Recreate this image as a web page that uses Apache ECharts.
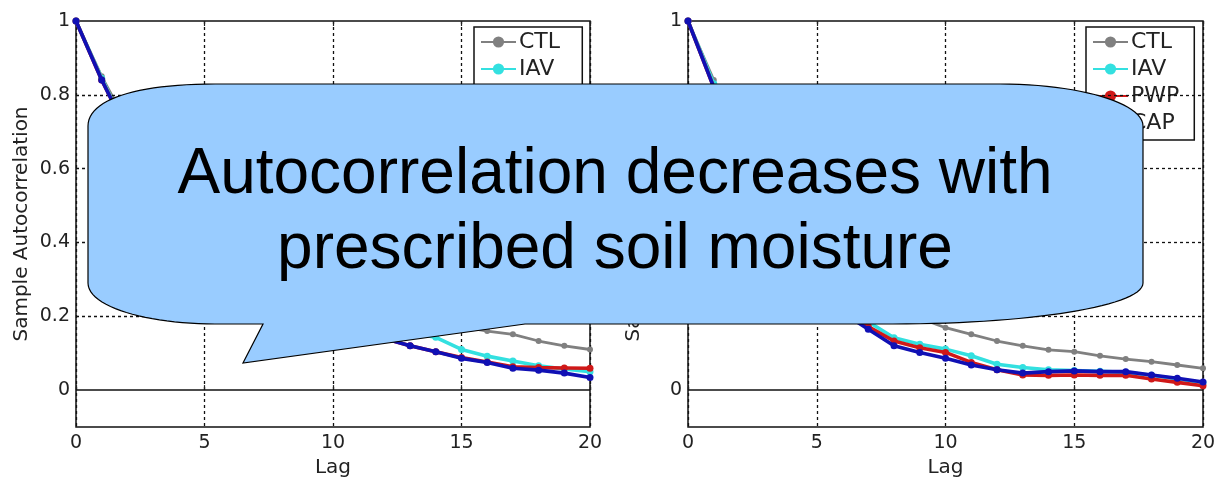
<!DOCTYPE html>
<html>
<head>
<meta charset="utf-8">
<script src="https://cdn.jsdelivr.net/npm/echarts@6/dist/echarts.min.js"></script>
<style>
  html, body { margin: 0; padding: 0; background: #fff; }
  #chart { width: 1221px; height: 483px; }
</style>
</head>
<body>
<div id="chart"></div>
<script>
// Lags 0..20
const lags = [0, 1, 2, 3, 4, 5, 6, 7, 8, 9, 10, 11, 12, 13, 14, 15, 16, 17, 18, 19, 20];

// Left panel: sample autocorrelation per experiment
const ctlLeft = [1.00, 0.85, 0.72, 0.62, 0.54, 0.47, 0.42, 0.37, 0.33, 0.295, 0.265, 0.24, 0.22, 0.20, 0.185, 0.172, 0.160, 0.151, 0.133, 0.120, 0.110];
const iavLeft = [1.00, 0.845, 0.70, 0.59, 0.50, 0.43, 0.37, 0.32, 0.28, 0.245, 0.215, 0.19, 0.168, 0.155, 0.143, 0.110, 0.092, 0.079, 0.066, 0.057, 0.050];
const pwpLeft = [1.00, 0.84, 0.70, 0.585, 0.49, 0.415, 0.35, 0.30, 0.26, 0.225, 0.19, 0.165, 0.14, 0.12, 0.104, 0.088, 0.076, 0.063, 0.061, 0.060, 0.059];
const capLeft = [1.00, 0.84, 0.70, 0.585, 0.49, 0.415, 0.35, 0.30, 0.26, 0.225, 0.19, 0.165, 0.14, 0.12, 0.104, 0.086, 0.075, 0.059, 0.054, 0.046, 0.034];

// Right panel
const ctlRight = [1.00, 0.84, 0.69, 0.56, 0.46, 0.38, 0.32, 0.27, 0.23, 0.195, 0.169, 0.151, 0.133, 0.120, 0.109, 0.104, 0.093, 0.084, 0.077, 0.068, 0.059];
const iavRight = [1.00, 0.83, 0.66, 0.52, 0.41, 0.32, 0.24, 0.185, 0.142, 0.124, 0.111, 0.093, 0.070, 0.061, 0.055, 0.053, 0.051, 0.048, 0.040, 0.030, 0.020];
const pwpRight = [1.00, 0.82, 0.65, 0.50, 0.39, 0.30, 0.22, 0.172, 0.133, 0.115, 0.102, 0.075, 0.055, 0.041, 0.040, 0.041, 0.040, 0.040, 0.030, 0.021, 0.012];
const capRight = [1.00, 0.82, 0.64, 0.49, 0.38, 0.29, 0.21, 0.165, 0.120, 0.102, 0.086, 0.068, 0.055, 0.046, 0.050, 0.052, 0.050, 0.050, 0.041, 0.032, 0.022];

const seriesNames = ['CTL', 'IAV', 'PWP', 'CAP'];
const seriesColors = ['#808080', '#33e0e0', '#d01818', '#1010b4'];

const gridValues = [0.2, 0.4, 0.6, 0.8];
const yTickLabels = ['0', '0.2', '0.4', '0.6', '0.8', '1'];

const calloutLines = ['Autocorrelation decreases with', 'prescribed soil moisture'];

const FONT = '"DejaVu Sans", sans-serif';

function pairs(values) {
  return lags.map((l, i) => [l, values[i]]);
}

function yLabel(v) {
  const k = Math.round(v * 10);
  if (k < 0 || k % 2 !== 0) return '';
  return yTickLabels[k / 2];
}

function xAxisFor(gridIndex) {
  return [{
    type: 'value', gridIndex, min: 0, max: 20, interval: 5, position: 'bottom',
    name: 'Lag', nameLocation: 'middle', nameGap: 29,
    nameTextStyle: { fontFamily: FONT, fontSize: 20, color: '#222' },
    axisLine: { show: false },
    axisTick: { show: true, inside: true, length: 5, lineStyle: { color: '#222', width: 1.2 } },
    axisLabel: { fontFamily: FONT, fontSize: 19, color: '#222', margin: 7 },
    splitLine: { show: true, lineStyle: { color: '#111', width: 1.3, type: [3, 3] } }
  }, {
    type: 'value', gridIndex, min: 0, max: 20, interval: 5, position: 'top',
    axisLine: { show: false },
    axisTick: { show: true, inside: true, length: 5, lineStyle: { color: '#222', width: 1.2 } },
    axisLabel: { show: false },
    splitLine: { show: false }
  }];
}

function yAxisFor(gridIndex) {
  return {
    type: 'value', gridIndex, min: -0.1, max: 1, interval: 0.1,
    name: 'Sample Autocorrelation', nameLocation: 'middle', nameGap: 44, nameRotate: 90,
    nameTextStyle: { fontFamily: FONT, fontSize: 20, color: '#222' },
    axisLine: { show: false },
    axisTick: { show: false },
    axisLabel: { fontFamily: FONT, fontSize: 19, color: '#222', margin: 6, formatter: yLabel },
    splitLine: { show: false }
  };
}

// Dotted horizontal grid plus the solid zero line, drawn under the data
function gridSeries(axisIndex) {
  const lines = gridValues.map(v => ({
    yAxis: v, lineStyle: { color: '#111', width: 1.3, type: [3, 3] }
  }));
  lines.push({ yAxis: 0, lineStyle: { color: '#111', width: 1.5, type: 'solid' } });
  return {
    type: 'line', xAxisIndex: axisIndex, yAxisIndex: axisIndex / 2, data: [], z: 1, silent: true,
    markLine: { silent: true, symbol: 'none', label: { show: false }, animation: false, data: lines }
  };
}

function dataSeries(name, values, idx, axisIndex) {
  const isCtl = name === 'CTL';
  return {
    name, type: 'line', xAxisIndex: axisIndex, yAxisIndex: axisIndex / 2, z: 3 + idx,
    data: pairs(values),
    color: seriesColors[idx],
    symbol: 'circle', symbolSize: isCtl ? 6 : 7, showSymbol: true,
    lineStyle: { width: isCtl ? 2.8 : 3.6, color: seriesColors[idx] },
    itemStyle: { color: seriesColors[idx] },
    animation: false
  };
}

function legendAt(left) {
  return {
    left, top: 27, orient: 'vertical', data: seriesNames,
    backgroundColor: '#fff', borderColor: '#111', borderWidth: 1.5,
    padding: [4, 15, 6, 6], itemWidth: 35, itemHeight: 14, itemGap: 5,
    textStyle: { fontFamily: FONT, fontSize: 22, color: '#222', lineHeight: 22, padding: [0, 0, 0, -2] },
    selectedMode: false
  };
}

// Rounded callout with a wedge tail, built from straight runs and cubic corners
function cubic(p0, p1, p2, p3, n) {
  const pts = [];
  for (let i = 1; i <= n; i++) {
    const t = i / n, u = 1 - t;
    pts.push([
      u * u * u * p0[0] + 3 * u * u * t * p1[0] + 3 * u * t * t * p2[0] + t * t * t * p3[0],
      u * u * u * p0[1] + 3 * u * u * t * p1[1] + 3 * u * t * t * p2[1] + t * t * t * p3[1]
    ]);
  }
  return pts;
}

function calloutOutline() {
  const L = 88, R = 1143, T = 84, B = 324;
  let pts = [[215, T], [1000, T]];
  pts = pts.concat(cubic([1000, T], [1079, T], [R, 103], [R, 126], 24));
  pts.push([R, 283]);
  pts = pts.concat(cubic([R, 283], [R, 306], [1030, B], [893, B], 30));
  pts.push([525, B], [243, 363], [263, B], [215, B]);
  pts = pts.concat(cubic([215, B], [148, B], [L, 307], [L, 283], 24));
  pts.push([L, 126]);
  pts = pts.concat(cubic([L, 126], [L, 100], [135, T], [215, T], 24));
  return pts;
}

const option = {
  backgroundColor: '#ffffff',
  animation: false,
  grid: [
    { left: 76, right: 631, top: 21, bottom: 56, show: true, borderColor: '#111', borderWidth: 1.5, backgroundColor: 'transparent' },
    { left: 688, right: 18, top: 21, bottom: 56, show: true, borderColor: '#111', borderWidth: 1.5, backgroundColor: 'transparent' }
  ],
  xAxis: xAxisFor(0).concat(xAxisFor(1)),
  yAxis: [yAxisFor(0), yAxisFor(1)],
  legend: [legendAt(474), legendAt(1086)],
  series: [
    gridSeries(0),
    dataSeries('CTL', ctlLeft, 0, 0),
    dataSeries('IAV', iavLeft, 1, 0),
    dataSeries('PWP', pwpLeft, 2, 0),
    dataSeries('CAP', capLeft, 3, 0),
    gridSeries(2),
    dataSeries('CTL', ctlRight, 0, 2),
    dataSeries('IAV', iavRight, 1, 2),
    dataSeries('PWP', pwpRight, 2, 2),
    dataSeries('CAP', capRight, 3, 2)
  ],
  graphic: [{
    type: 'group', z: 100,
    children: [{
      type: 'polygon', z: 100,
      shape: { points: calloutOutline() },
      style: { fill: '#99ccff', stroke: '#000', lineWidth: 1.2 }
    }, {
      type: 'text', z: 101, x: 615, y: 213,
      style: {
        text: calloutLines.join('\n'),
        fontFamily: '"Liberation Sans", Arial, sans-serif', fontSize: 64, lineHeight: 75,
        fill: '#000', align: 'center', verticalAlign: 'middle'
      }
    }]
  }]
};

const chart = echarts.init(document.getElementById('chart'), null, { renderer: 'canvas' });
chart.setOption(option);
</script>
</body>
</html>
